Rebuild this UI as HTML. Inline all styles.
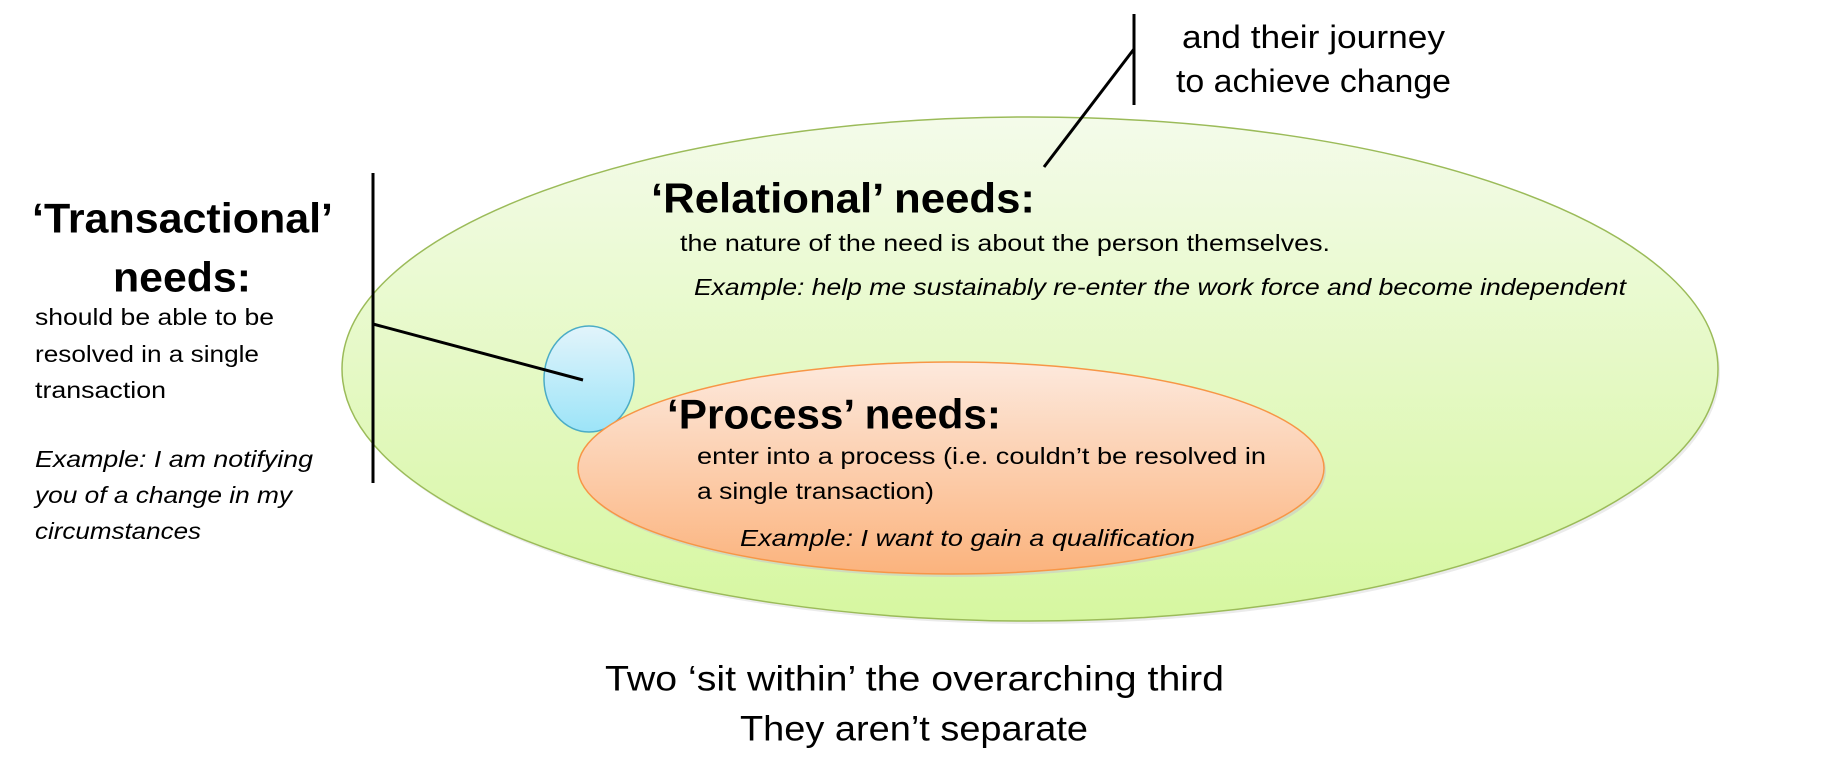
<!DOCTYPE html>
<html><head><meta charset="utf-8"><style>html,body{margin:0;padding:0;background:#fff}svg{display:block}text{font-family:"Liberation Sans",sans-serif;fill:#000}</style></head>
<body>
<svg width="1830" height="780" viewBox="0 0 1830 780" xmlns="http://www.w3.org/2000/svg">
<defs>
<linearGradient id="g" x1="0" y1="0" x2="0" y2="1"><stop offset="0" stop-color="#f4fbea"/><stop offset="1" stop-color="#d6f7a0"/></linearGradient>
<linearGradient id="o" x1="0" y1="0" x2="0" y2="1"><stop offset="0" stop-color="#fde9dd"/><stop offset="1" stop-color="#fbb37d"/></linearGradient>
<linearGradient id="b" x1="0" y1="0" x2="0" y2="1"><stop offset="0" stop-color="#e2f4fb"/><stop offset="1" stop-color="#9ce4f8"/></linearGradient>
</defs>
<ellipse cx="1032" cy="372" rx="688" ry="252" fill="#ddd" opacity="0.6"/>
<ellipse cx="1030" cy="369" rx="688" ry="252" fill="url(#g)" stroke="#9bbb59" stroke-width="1.5"/>
<ellipse cx="589" cy="379" rx="45" ry="53" fill="url(#b)" stroke="#4bacc6" stroke-width="1.5"/>
<ellipse cx="953" cy="471" rx="373" ry="106" fill="#c9c9c9" opacity="0.6"/>
<ellipse cx="951" cy="468" rx="373" ry="106" fill="url(#o)" stroke="#f79646" stroke-width="1.5"/>
<line x1="373" y1="173" x2="373" y2="483" stroke="#000" stroke-width="3"/>
<line x1="373" y1="324" x2="583" y2="380" stroke="#000" stroke-width="3"/>
<line x1="1134" y1="14" x2="1134" y2="105" stroke="#000" stroke-width="3"/>
<line x1="1134" y1="49" x2="1044" y2="167" stroke="#000" stroke-width="3"/>
<g dominant-baseline="central">
<text x="1182" y="37" font-size="32" textLength="263" lengthAdjust="spacingAndGlyphs">and their journey</text>
<text x="1176" y="81" font-size="32" textLength="275" lengthAdjust="spacingAndGlyphs">to achieve change</text>
<text x="651" y="198" font-size="42" font-weight="bold" textLength="384" lengthAdjust="spacingAndGlyphs">‘Relational’ needs:</text>
<text x="680" y="243" font-size="23" textLength="650" lengthAdjust="spacingAndGlyphs">the nature of the need is about the person themselves.</text>
<text x="694" y="287" font-size="23" font-style="italic" textLength="932" lengthAdjust="spacingAndGlyphs">Example: help me sustainably re-enter the work force and become independent</text>
<text x="667" y="414" font-size="42" font-weight="bold" textLength="334" lengthAdjust="spacingAndGlyphs">‘Process’ needs:</text>
<text x="697" y="456" font-size="23" textLength="569" lengthAdjust="spacingAndGlyphs">enter into a process  (i.e. couldn’t be resolved in</text>
<text x="697" y="491" font-size="23" textLength="237" lengthAdjust="spacingAndGlyphs">a single transaction)</text>
<text x="740" y="538" font-size="23" font-style="italic" textLength="455" lengthAdjust="spacingAndGlyphs">Example: I want to gain a qualification</text>
<text x="32" y="218" font-size="42" font-weight="bold" textLength="301" lengthAdjust="spacingAndGlyphs">‘Transactional’</text>
<text x="113" y="277" font-size="42" font-weight="bold" textLength="138" lengthAdjust="spacingAndGlyphs">needs:</text>
<text x="35" y="317" font-size="23" textLength="239" lengthAdjust="spacingAndGlyphs">should be able to be</text>
<text x="35" y="354" font-size="23" textLength="224" lengthAdjust="spacingAndGlyphs">resolved in a single</text>
<text x="35" y="390" font-size="23" textLength="131" lengthAdjust="spacingAndGlyphs">transaction</text>
<text x="35" y="459" font-size="23" font-style="italic" textLength="278" lengthAdjust="spacingAndGlyphs">Example: I am notifying</text>
<text x="35" y="495" font-size="23" font-style="italic" textLength="257" lengthAdjust="spacingAndGlyphs">you of a change in my</text>
<text x="35" y="531" font-size="23" font-style="italic" textLength="166" lengthAdjust="spacingAndGlyphs">circumstances</text>
<text x="605" y="679" font-size="35" textLength="619" lengthAdjust="spacingAndGlyphs">Two ‘sit within’ the overarching third</text>
<text x="740" y="729" font-size="35" textLength="348" lengthAdjust="spacingAndGlyphs">They aren’t separate</text>
</g>
</svg>
</body></html>
